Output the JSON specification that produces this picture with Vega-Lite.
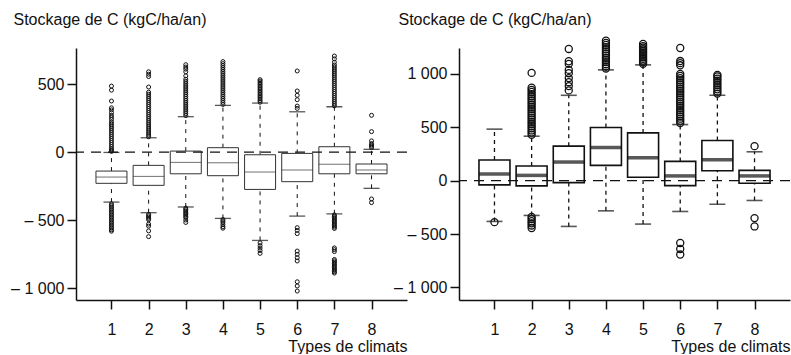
{
  "$schema": "https://vega.github.io/schema/vega-lite/v6.json",
  "background": "white",
  "padding": {"left": 10, "top": 11, "right": 0, "bottom": 0},
  "bounds": "flush",
  "spacing": 52,
  "config": {
    "view": {"stroke": null},
    "font": "Liberation Sans",
    "axis": {
      "grid": false,
      "domainColor": "#111",
      "tickColor": "#111",
      "labelColor": "#111",
      "titleColor": "#111",
      "labelFont": "Liberation Sans",
      "titleFont": "Liberation Sans",
      "labelFontSize": 16,
      "titleFontSize": 16,
      "titleFontWeight": "normal",
      "domainWidth": 1.5,
      "tickWidth": 1.5
    }
  },
  "datasets": {
    "leftBox": [
      {"type": 1, "lower": -368, "q1": -230, "median": -184, "q3": -140, "upper": -3},
      {"type": 2, "lower": -446, "q1": -245, "median": -179, "q3": -98, "upper": 105},
      {"type": 3, "lower": -404, "q1": -160, "median": -76, "q3": 7, "upper": 260},
      {"type": 4, "lower": -488, "q1": -174, "median": -79, "q3": 32, "upper": 343},
      {"type": 5, "lower": -650, "q1": -275, "median": -147, "q3": -20, "upper": 360},
      {"type": 6, "lower": -471, "q1": -218, "median": -132, "q3": -10, "upper": 296},
      {"type": 7, "lower": -454, "q1": -160, "median": -90, "q3": 39, "upper": 333},
      {"type": 8, "lower": -267, "q1": -160, "median": -132, "q3": -88, "upper": 20}
    ],
    "rightBox": [
      {"type": 1, "lower": -382, "q1": -40, "median": 62, "q3": 193, "upper": 482},
      {"type": 2, "lower": -326, "q1": -49, "median": 49, "q3": 137, "upper": 416},
      {"type": 3, "lower": -429, "q1": -19, "median": 174, "q3": 323, "upper": 799},
      {"type": 4, "lower": -283, "q1": 143, "median": 310, "q3": 497, "upper": 1037},
      {"type": 5, "lower": -407, "q1": 31, "median": 214, "q3": 447, "upper": 1084},
      {"type": 6, "lower": -289, "q1": -47, "median": 44, "q3": 180, "upper": 525},
      {"type": 7, "lower": -221, "q1": 93, "median": 196, "q3": 376, "upper": 799},
      {"type": 8, "lower": -186, "q1": -25, "median": 44, "q3": 96, "upper": 270}
    ],
    "leftOut": [
      {"type": 1, "v": 5}, {"type": 1, "v": 15}, {"type": 1, "v": 25}, {"type": 1, "v": 40}, {"type": 1, "v": 55}, {"type": 1, "v": 70}, {"type": 1, "v": 85}, {"type": 1, "v": 100}, {"type": 1, "v": 115}, {"type": 1, "v": 130}, {"type": 1, "v": 145}, {"type": 1, "v": 160}, {"type": 1, "v": 175}, {"type": 1, "v": 190}, {"type": 1, "v": 205}, {"type": 1, "v": 220}, {"type": 1, "v": 240}, {"type": 1, "v": 255}, {"type": 1, "v": 270}, {"type": 1, "v": 290}, {"type": 1, "v": 310}, {"type": 1, "v": 325}, {"type": 1, "v": 375}, {"type": 1, "v": 455}, {"type": 1, "v": 485},
      {"type": 1, "v": -380}, {"type": 1, "v": -392}, {"type": 1, "v": -404}, {"type": 1, "v": -416}, {"type": 1, "v": -428}, {"type": 1, "v": -440}, {"type": 1, "v": -452}, {"type": 1, "v": -464}, {"type": 1, "v": -476}, {"type": 1, "v": -488}, {"type": 1, "v": -500}, {"type": 1, "v": -512}, {"type": 1, "v": -524}, {"type": 1, "v": -536}, {"type": 1, "v": -548}, {"type": 1, "v": -560}, {"type": 1, "v": -572}, {"type": 1, "v": -582},
      {"type": 2, "v": 112}, {"type": 2, "v": 125}, {"type": 2, "v": 140}, {"type": 2, "v": 155}, {"type": 2, "v": 170}, {"type": 2, "v": 185}, {"type": 2, "v": 200}, {"type": 2, "v": 215}, {"type": 2, "v": 230}, {"type": 2, "v": 245}, {"type": 2, "v": 260}, {"type": 2, "v": 275}, {"type": 2, "v": 290}, {"type": 2, "v": 305}, {"type": 2, "v": 320}, {"type": 2, "v": 335}, {"type": 2, "v": 350}, {"type": 2, "v": 365}, {"type": 2, "v": 380}, {"type": 2, "v": 395}, {"type": 2, "v": 410}, {"type": 2, "v": 425}, {"type": 2, "v": 440}, {"type": 2, "v": 478}, {"type": 2, "v": 555}, {"type": 2, "v": 572}, {"type": 2, "v": 590},
      {"type": 2, "v": -458}, {"type": 2, "v": -468}, {"type": 2, "v": -478}, {"type": 2, "v": -488}, {"type": 2, "v": -498}, {"type": 2, "v": -530}, {"type": 2, "v": -545}, {"type": 2, "v": -580}, {"type": 2, "v": -622},
      {"type": 3, "v": 268}, {"type": 3, "v": 282}, {"type": 3, "v": 296}, {"type": 3, "v": 310}, {"type": 3, "v": 324}, {"type": 3, "v": 338}, {"type": 3, "v": 352}, {"type": 3, "v": 366}, {"type": 3, "v": 380}, {"type": 3, "v": 394}, {"type": 3, "v": 408}, {"type": 3, "v": 422}, {"type": 3, "v": 436}, {"type": 3, "v": 450}, {"type": 3, "v": 464}, {"type": 3, "v": 478}, {"type": 3, "v": 492}, {"type": 3, "v": 506}, {"type": 3, "v": 520}, {"type": 3, "v": 535}, {"type": 3, "v": 560}, {"type": 3, "v": 590}, {"type": 3, "v": 610}, {"type": 3, "v": 625}, {"type": 3, "v": 642},
      {"type": 3, "v": -412}, {"type": 3, "v": -422}, {"type": 3, "v": -432}, {"type": 3, "v": -442}, {"type": 3, "v": -452}, {"type": 3, "v": -462}, {"type": 3, "v": -472}, {"type": 3, "v": -482}, {"type": 3, "v": -500}, {"type": 3, "v": -518},
      {"type": 4, "v": 350}, {"type": 4, "v": 365}, {"type": 4, "v": 380}, {"type": 4, "v": 395}, {"type": 4, "v": 410}, {"type": 4, "v": 425}, {"type": 4, "v": 440}, {"type": 4, "v": 455}, {"type": 4, "v": 470}, {"type": 4, "v": 485}, {"type": 4, "v": 500}, {"type": 4, "v": 515}, {"type": 4, "v": 530}, {"type": 4, "v": 545}, {"type": 4, "v": 560}, {"type": 4, "v": 575}, {"type": 4, "v": 590}, {"type": 4, "v": 605}, {"type": 4, "v": 620}, {"type": 4, "v": 635}, {"type": 4, "v": 650}, {"type": 4, "v": 665},
      {"type": 4, "v": -496}, {"type": 4, "v": -508}, {"type": 4, "v": -520}, {"type": 4, "v": -535}, {"type": 4, "v": -550}, {"type": 4, "v": -560},
      {"type": 5, "v": 366}, {"type": 5, "v": 378}, {"type": 5, "v": 390}, {"type": 5, "v": 402}, {"type": 5, "v": 414}, {"type": 5, "v": 426}, {"type": 5, "v": 438}, {"type": 5, "v": 450}, {"type": 5, "v": 462}, {"type": 5, "v": 474}, {"type": 5, "v": 486}, {"type": 5, "v": 498}, {"type": 5, "v": 510}, {"type": 5, "v": 522}, {"type": 5, "v": 532},
      {"type": 5, "v": -668}, {"type": 5, "v": -688}, {"type": 5, "v": -706}, {"type": 5, "v": -724}, {"type": 5, "v": -745},
      {"type": 6, "v": 321}, {"type": 6, "v": 338}, {"type": 6, "v": 385}, {"type": 6, "v": 417}, {"type": 6, "v": 449}, {"type": 6, "v": 596},
      {"type": 6, "v": -556}, {"type": 6, "v": -576}, {"type": 6, "v": -600}, {"type": 6, "v": -728}, {"type": 6, "v": -752}, {"type": 6, "v": -777}, {"type": 6, "v": -801}, {"type": 6, "v": -954}, {"type": 6, "v": -985}, {"type": 6, "v": -1022},
      {"type": 7, "v": 340}, {"type": 7, "v": 355}, {"type": 7, "v": 370}, {"type": 7, "v": 385}, {"type": 7, "v": 400}, {"type": 7, "v": 415}, {"type": 7, "v": 430}, {"type": 7, "v": 445}, {"type": 7, "v": 460}, {"type": 7, "v": 475}, {"type": 7, "v": 490}, {"type": 7, "v": 505}, {"type": 7, "v": 520}, {"type": 7, "v": 535}, {"type": 7, "v": 550}, {"type": 7, "v": 565}, {"type": 7, "v": 580}, {"type": 7, "v": 595}, {"type": 7, "v": 610}, {"type": 7, "v": 625}, {"type": 7, "v": 640}, {"type": 7, "v": 660}, {"type": 7, "v": 685}, {"type": 7, "v": 706},
      {"type": 7, "v": -462}, {"type": 7, "v": -472}, {"type": 7, "v": -482}, {"type": 7, "v": -492}, {"type": 7, "v": -502}, {"type": 7, "v": -512}, {"type": 7, "v": -522}, {"type": 7, "v": -532}, {"type": 7, "v": -542}, {"type": 7, "v": -552}, {"type": 7, "v": -562}, {"type": 7, "v": -705}, {"type": 7, "v": -718}, {"type": 7, "v": -732}, {"type": 7, "v": -790}, {"type": 7, "v": -800}, {"type": 7, "v": -810}, {"type": 7, "v": -820}, {"type": 7, "v": -830}, {"type": 7, "v": -840}, {"type": 7, "v": -850}, {"type": 7, "v": -860}, {"type": 7, "v": -870}, {"type": 7, "v": -880}, {"type": 7, "v": -890},
      {"type": 8, "v": 32}, {"type": 8, "v": 42}, {"type": 8, "v": 52}, {"type": 8, "v": 62}, {"type": 8, "v": 82}, {"type": 8, "v": 150}, {"type": 8, "v": 270}, {"type": 8, "v": -345}, {"type": 8, "v": -372}
    ],
    "rightOut": [
      {"type": 1, "v": -389},
      {"type": 2, "v": 430}, {"type": 2, "v": 450}, {"type": 2, "v": 470}, {"type": 2, "v": 490}, {"type": 2, "v": 510}, {"type": 2, "v": 530}, {"type": 2, "v": 550}, {"type": 2, "v": 570}, {"type": 2, "v": 590}, {"type": 2, "v": 610}, {"type": 2, "v": 630}, {"type": 2, "v": 650}, {"type": 2, "v": 670}, {"type": 2, "v": 690}, {"type": 2, "v": 710}, {"type": 2, "v": 730}, {"type": 2, "v": 750}, {"type": 2, "v": 770}, {"type": 2, "v": 790}, {"type": 2, "v": 810}, {"type": 2, "v": 830}, {"type": 2, "v": 850}, {"type": 2, "v": 870}, {"type": 2, "v": 1009},
      {"type": 2, "v": -340}, {"type": 2, "v": -360}, {"type": 2, "v": -380}, {"type": 2, "v": -400}, {"type": 2, "v": -420}, {"type": 2, "v": -444},
      {"type": 3, "v": 845}, {"type": 3, "v": 885}, {"type": 3, "v": 922}, {"type": 3, "v": 960}, {"type": 3, "v": 1006}, {"type": 3, "v": 1037}, {"type": 3, "v": 1093}, {"type": 3, "v": 1118}, {"type": 3, "v": 1233},
      {"type": 4, "v": 1050}, {"type": 4, "v": 1070}, {"type": 4, "v": 1090}, {"type": 4, "v": 1110}, {"type": 4, "v": 1130}, {"type": 4, "v": 1150}, {"type": 4, "v": 1170}, {"type": 4, "v": 1190}, {"type": 4, "v": 1210}, {"type": 4, "v": 1230}, {"type": 4, "v": 1250}, {"type": 4, "v": 1270}, {"type": 4, "v": 1290}, {"type": 4, "v": 1311},
      {"type": 5, "v": 1095}, {"type": 5, "v": 1110}, {"type": 5, "v": 1125}, {"type": 5, "v": 1140}, {"type": 5, "v": 1155}, {"type": 5, "v": 1170}, {"type": 5, "v": 1185}, {"type": 5, "v": 1200}, {"type": 5, "v": 1215}, {"type": 5, "v": 1230}, {"type": 5, "v": 1245}, {"type": 5, "v": 1260}, {"type": 5, "v": 1280},
      {"type": 6, "v": 540}, {"type": 6, "v": 560}, {"type": 6, "v": 580}, {"type": 6, "v": 600}, {"type": 6, "v": 620}, {"type": 6, "v": 640}, {"type": 6, "v": 660}, {"type": 6, "v": 680}, {"type": 6, "v": 700}, {"type": 6, "v": 720}, {"type": 6, "v": 740}, {"type": 6, "v": 760}, {"type": 6, "v": 780}, {"type": 6, "v": 800}, {"type": 6, "v": 820}, {"type": 6, "v": 840}, {"type": 6, "v": 860}, {"type": 6, "v": 880}, {"type": 6, "v": 900}, {"type": 6, "v": 920}, {"type": 6, "v": 940}, {"type": 6, "v": 960}, {"type": 6, "v": 980}, {"type": 6, "v": 1000}, {"type": 6, "v": 1080}, {"type": 6, "v": 1100}, {"type": 6, "v": 1120}, {"type": 6, "v": 1242},
      {"type": 6, "v": -584}, {"type": 6, "v": -640}, {"type": 6, "v": -692},
      {"type": 7, "v": 815}, {"type": 7, "v": 835}, {"type": 7, "v": 855}, {"type": 7, "v": 875}, {"type": 7, "v": 895}, {"type": 7, "v": 915}, {"type": 7, "v": 935}, {"type": 7, "v": 955}, {"type": 7, "v": 975}, {"type": 7, "v": 990},
      {"type": 8, "v": 323}, {"type": 8, "v": -351}, {"type": 8, "v": -429}
    ]
  },
  "hconcat": [
    {
      "width": 331,
      "height": 252,
      "layer": [
        {
          "data": {"name": "leftBox"},
          "mark": {"type": "rule", "strokeDash": [4, 5], "color": "#111", "strokeWidth": 1},
          "encoding": {
            "x": {"field": "type", "type": "quantitative", "scale": {"domain": [0.18, 8.82], "nice": false, "zero": false},
                  "axis": {"values": [1, 2, 3, 4, 5, 6, 7, 8], "tickSize": 9, "labelPadding": 12, "title": "Types de climats", "titleAnchor": "end", "titleAlign": "right", "titleBaseline": "alphabetic", "titleX": 331, "titleY": 51}},
            "y": {"field": "q3", "type": "quantitative", "scale": {"domain": [-1088, 765], "nice": false, "zero": false},
                  "axis": {"values": [-1000, -500, 0, 500], "tickSize": 9, "labelPadding": 3, "labelExpr": "(datum.value < 0 ? '– ' : '') + replace(format(abs(datum.value), ','), ',', ' ')", "title": "Stockage de C (kgC/ha/an)", "titleAngle": 0, "titleAlign": "left", "titleBaseline": "alphabetic", "titleX": -63, "titleY": -24}},
            "y2": {"field": "upper"}
          }
        },
        {
          "data": {"name": "leftBox"},
          "mark": {"type": "rule", "strokeDash": [4, 5], "color": "#111", "strokeWidth": 1},
          "encoding": {
            "x": {"field": "type", "type": "quantitative"},
            "y": {"field": "lower", "type": "quantitative"},
            "y2": {"field": "q1"}
          }
        },
        {
          "data": {"name": "leftBox"},
          "mark": {"type": "tick", "orient": "horizontal", "size": 16, "thickness": 1.3, "color": "#111"},
          "encoding": {"x": {"field": "type", "type": "quantitative"}, "y": {"field": "upper", "type": "quantitative"}}
        },
        {
          "data": {"name": "leftBox"},
          "mark": {"type": "tick", "orient": "horizontal", "size": 16, "thickness": 1.3, "color": "#111"},
          "encoding": {"x": {"field": "type", "type": "quantitative"}, "y": {"field": "lower", "type": "quantitative"}}
        },
        {
          "data": {"name": "leftBox"},
          "mark": {"type": "bar", "size": 31, "fill": "white", "stroke": "#333", "strokeWidth": 1},
          "encoding": {"x": {"field": "type", "type": "quantitative"}, "y": {"field": "q1", "type": "quantitative"}, "y2": {"field": "q3"}}
        },
        {
          "data": {"values": [{}]},
          "mark": {"type": "rule", "strokeDash": [10, 7], "color": "#111", "strokeWidth": 1.3},
          "encoding": {"y": {"datum": 0}}
        },
        {
          "data": {"name": "leftBox"},
          "mark": {"type": "tick", "orient": "horizontal", "size": 31, "thickness": 1, "color": "#333"},
          "encoding": {"x": {"field": "type", "type": "quantitative"}, "y": {"field": "median", "type": "quantitative"}}
        },
        {
          "data": {"name": "leftOut"},
          "mark": {"type": "point", "shape": "circle", "filled": false, "size": 16, "strokeWidth": 1, "color": "#111", "opacity": 1},
          "encoding": {"x": {"field": "type", "type": "quantitative"}, "y": {"field": "v", "type": "quantitative"}}
        }
      ]
    },
    {
      "width": 331,
      "height": 252,
      "layer": [
        {
          "data": {"name": "rightBox"},
          "mark": {"type": "rule", "strokeDash": [4, 4], "color": "#111", "strokeWidth": 1.3},
          "encoding": {
            "x": {"field": "type", "type": "quantitative", "scale": {"domain": [0.18, 8.82], "nice": false, "zero": false},
                  "axis": {"values": [1, 2, 3, 4, 5, 6, 7, 8], "tickSize": 9, "labelPadding": 12, "title": "Types de climats", "titleAnchor": "end", "titleAlign": "right", "titleBaseline": "alphabetic", "titleX": 331, "titleY": 51}},
            "y": {"field": "q3", "type": "quantitative", "scale": {"domain": [-1118, 1242], "nice": false, "zero": false},
                  "axis": {"values": [-1000, -500, 0, 500, 1000], "tickSize": 9, "labelPadding": 3, "labelExpr": "(datum.value < 0 ? '– ' : '') + replace(format(abs(datum.value), ','), ',', ' ')", "title": "Stockage de C (kgC/ha/an)", "titleAngle": 0, "titleAlign": "left", "titleBaseline": "alphabetic", "titleX": -61, "titleY": -24}},
            "y2": {"field": "upper"}
          }
        },
        {
          "data": {"name": "rightBox"},
          "mark": {"type": "rule", "strokeDash": [4, 4], "color": "#111", "strokeWidth": 1.3},
          "encoding": {
            "x": {"field": "type", "type": "quantitative"},
            "y": {"field": "lower", "type": "quantitative"},
            "y2": {"field": "q1"}
          }
        },
        {
          "data": {"name": "rightBox"},
          "mark": {"type": "tick", "orient": "horizontal", "size": 16, "thickness": 1.6, "color": "#111"},
          "encoding": {"x": {"field": "type", "type": "quantitative"}, "y": {"field": "upper", "type": "quantitative"}}
        },
        {
          "data": {"name": "rightBox"},
          "mark": {"type": "tick", "orient": "horizontal", "size": 16, "thickness": 1.6, "color": "#111"},
          "encoding": {"x": {"field": "type", "type": "quantitative"}, "y": {"field": "lower", "type": "quantitative"}}
        },
        {
          "data": {"name": "rightBox"},
          "mark": {"type": "bar", "size": 31, "fill": "white", "stroke": "#111", "strokeWidth": 1.6},
          "encoding": {"x": {"field": "type", "type": "quantitative"}, "y": {"field": "q1", "type": "quantitative"}, "y2": {"field": "q3"}}
        },
        {
          "data": {"values": [{}]},
          "mark": {"type": "rule", "strokeDash": [10, 7], "color": "#111", "strokeWidth": 1.3},
          "encoding": {"y": {"datum": 0}}
        },
        {
          "data": {"name": "rightBox"},
          "mark": {"type": "tick", "orient": "horizontal", "size": 31, "thickness": 3.5, "color": "#111"},
          "encoding": {"x": {"field": "type", "type": "quantitative"}, "y": {"field": "median", "type": "quantitative"}}
        },
        {
          "data": {"name": "rightOut"},
          "mark": {"type": "point", "shape": "circle", "filled": false, "size": 50, "strokeWidth": 1.3, "color": "#111", "opacity": 1},
          "encoding": {"x": {"field": "type", "type": "quantitative"}, "y": {"field": "v", "type": "quantitative"}}
        }
      ]
    }
  ]
}
